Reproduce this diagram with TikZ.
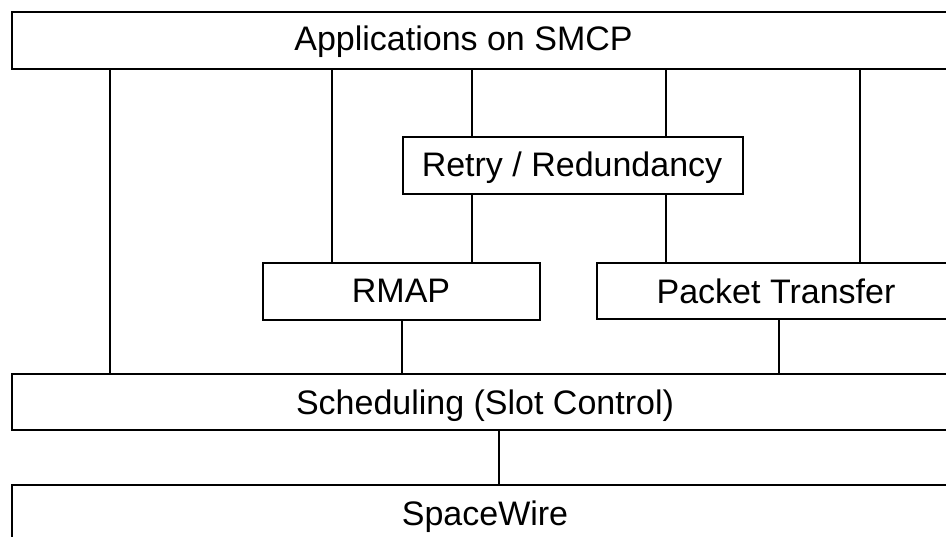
\documentclass[tikz,border=0pt]{standalone}
\usepackage{fontspec}
\setmainfont{Liberation Sans}
\begin{document}
\begin{tikzpicture}[x=1pt,y=-1pt,
  box/.style={draw=black,line width=1.5pt,fill=none,inner sep=0pt,anchor=north west},
  lbl/.style={anchor=base,inner sep=0pt,font=\fontsize{34}{40}\selectfont},
  conn/.style={draw=black,line width=1.2pt}]
\useasboundingbox (0,0) rectangle (946,536);
\clip (0,0) rectangle (946,536);
\fill[white] (0,0) rectangle (946,536);
% boxes
\node[box,minimum width=949pt,minimum height=57pt] (app) at (11,11) {};
\node[box,minimum width=340pt,minimum height=57pt] (retry) at (402,136) {};
\node[box,minimum width=277pt,minimum height=57pt] (rmap) at (262,262) {};
\node[box,minimum width=364pt,minimum height=56pt] (pt) at (596,262) {};
\node[box,minimum width=949pt,minimum height=56pt] (sched) at (11,373) {};
\node[box,minimum width=949pt,minimum height=66pt] (sw) at (11,484) {};
% labels
\node[lbl] (appt) at (463.5,50) {Applications on SMCP};
\node[lbl] (retryt) at (572,176) {Retry / Redundancy};
\node[lbl] (rmapt) at (401,302) {RMAP};
\node[lbl] (ptt) at (776,303) {Packet Transfer};
\node[lbl] (schedt) at (485,414) {Scheduling (Slot Control)};
\node[lbl] (swt) at (485,525) {SpaceWire};
% connectors
\draw[conn] (app.south -| 110,0) -- (sched.north -| 110,0);
\draw[conn] (app.south -| 332,0) -- (rmap.north -| 332,0);
\draw[conn] (app.south -| 472,0) -- (retry.north -| 472,0);
\draw[conn] (app.south -| 666,0) -- (retry.north -| 666,0);
\draw[conn] (app.south -| 860,0) -- (pt.north -| 860,0);
\draw[conn] (retry.south -| 472,0) -- (rmap.north -| 472,0);
\draw[conn] (retry.south -| 666,0) -- (pt.north -| 666,0);
\draw[conn] (rmap.south -| 402,0) -- (sched.north -| 402,0);
\draw[conn] (pt.south -| 779,0) -- (sched.north -| 779,0);
\draw[conn] (sched.south -| 499,0) -- (sw.north -| 499,0);
\end{tikzpicture}
\end{document}
